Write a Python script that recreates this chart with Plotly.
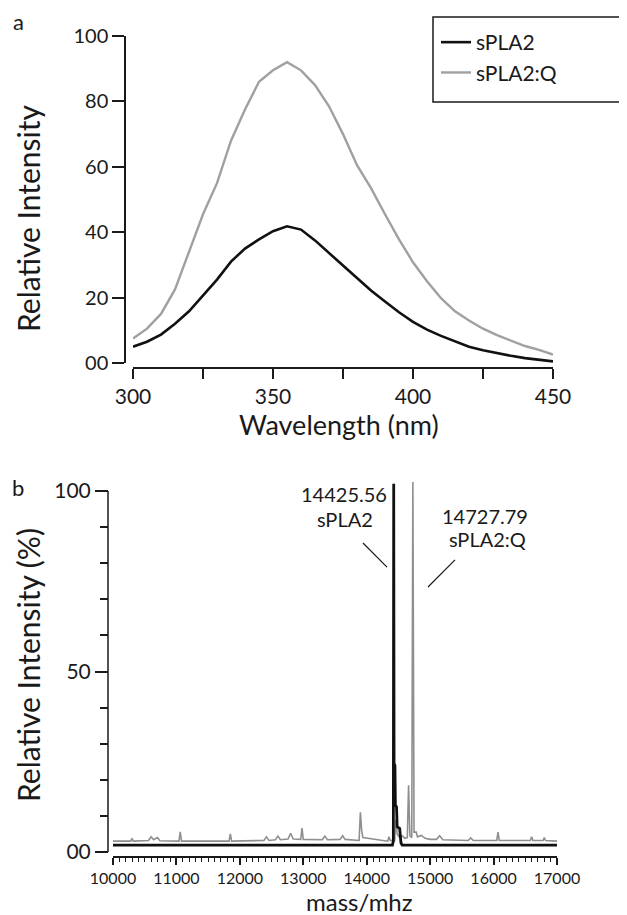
import plotly.graph_objects as go

W, H = 627, 915
OFF = 8  # the page body margin shifts the figure by this many pixels
FW, FH = W - OFF, H - OFF


def px(x):
    return (x - OFF) / FW


def py(y):
    return 1 - (y - OFF) / FH


# ---------------- Panel a: fluorescence emission ----------------
wavelength = [300, 305, 310, 315, 320, 325, 330, 335, 340, 345, 350, 355, 360, 365, 370, 375,
              380, 385, 390, 395, 400, 405, 410, 415, 420, 425, 430, 435, 440, 445, 450]
fluor_spla2 = [5.0, 6.5, 8.7, 12.0, 15.8, 20.8, 25.5, 31.0, 35.0, 37.8, 40.3, 41.8, 40.8, 37.5,
               33.8, 29.8, 26.0, 22.2, 18.8, 15.5, 12.6, 10.2, 8.3, 6.6, 5.0, 3.9, 3.0, 2.2,
               1.5, 0.9, 0.5]
fluor_spla2_q = [7.5, 10.5, 15.0, 22.5, 34.0, 45.5, 55.0, 68.0, 77.5, 86.0, 89.5, 92.0, 89.5,
                 85.0, 78.5, 70.0, 60.5, 53.5, 45.5, 37.8, 30.8, 25.0, 19.8, 15.8, 13.0, 10.5,
                 8.5, 6.8, 5.2, 4.0, 2.6]
a_xticks = [300, 325, 350, 375, 400, 425, 450]
a_xticktext = ["300", "", "350", "", "400", "", "450"]
a_yticks = [0, 20, 40, 60, 80, 100]
a_yticktext = ["00", "20", "40", "60", "80", "100"]

# ---------------- Panel b: mass spectrum ----------------
ms_mass_q = [10000, 10280, 10300, 10320, 10560, 10600, 10640, 10700, 10740, 11040, 11060, 11080,
             11830, 11850, 11870, 12380, 12420, 12460, 12560, 12600, 12640, 12760, 12800, 12840,
             12960, 12980, 13000, 13300, 13340, 13380, 13580, 13620, 13660, 13880, 13900, 13920,
             13940, 14330, 14350, 14370, 14440, 14460, 14480, 14520, 14560, 14600, 14640, 14660,
             14680, 14710, 14727.79, 14746, 14780, 14800, 14860, 14920, 15000, 15100, 15150,
             15200, 15600, 15640, 15680, 16050, 16070, 16090, 16580, 16600, 16620, 16780, 16800,
             16820, 17000]
ms_int_q = [3.0, 3.0, 3.8, 3.0, 3.2, 4.2, 3.4, 4.0, 3.1, 3.0, 5.6, 3.0,
            3.0, 5.0, 3.0, 3.2, 4.2, 3.2, 3.4, 4.4, 3.4, 3.6, 5.2, 3.6,
            3.5, 6.6, 3.5, 3.4, 4.4, 3.4, 3.5, 4.5, 3.5, 3.2, 11.0, 6.0,
            4.0, 3.0, 4.2, 3.2, 3.2, 9.0, 5.0, 4.0, 4.5, 3.8, 4.0, 18.5,
            4.5, 4.0, 102.5, 5.5, 5.5, 4.2, 4.6, 3.8, 3.5, 3.5, 4.5,
            3.4, 3.2, 3.9, 3.2, 3.2, 5.5, 3.2, 3.2, 4.2, 3.2, 3.2, 4.0,
            3.2, 3.0]
ms_mass = [10000, 14405, 14420, 14425.56, 14431, 14445, 14452, 14470, 14480, 14520, 14540,
           14560, 17000]
ms_int = [1.9, 1.9, 3.0, 102.0, 24.5, 24.0, 13.0, 12.5, 7.0, 6.5, 2.5, 1.9, 1.9]
b_xticks = [10000, 11000, 12000, 13000, 14000, 15000, 16000, 17000]
b_xticktext = ["10000", "11000", "12000", "13000", "14000", "15000", "16000", "17000"]
b_yticks = [0, 50, 100]
b_yticktext = ["00", "50", "100"]

FONT = "Lato"
INK = "#1a1a1a"
BLACK = "#111111"
GRAY_A = "#a0a0a0"
GRAY_B = "#8f8f8f"

fig = go.Figure()
fig.add_trace(go.Scatter(x=wavelength, y=fluor_spla2, mode="lines", name="sPLA2",
                         line=dict(color=BLACK, width=2.6), xaxis="x", yaxis="y"))
fig.add_trace(go.Scatter(x=wavelength, y=fluor_spla2_q, mode="lines", name="sPLA2:Q",
                         line=dict(color=GRAY_A, width=2.4), xaxis="x", yaxis="y"))
fig.add_trace(go.Scatter(x=ms_mass_q, y=ms_int_q, mode="lines", showlegend=False,
                         line=dict(color=GRAY_B, width=1.6), xaxis="x2", yaxis="y2"))
fig.add_trace(go.Scatter(x=ms_mass, y=ms_int, mode="lines", showlegend=False,
                         line=dict(color=BLACK, width=2.8), xaxis="x2", yaxis="y2"))

axis_common = dict(showgrid=False, zeroline=False, linecolor=INK, linewidth=1.5,
                   ticks="outside", tickcolor=INK, tickwidth=1.5, automargin=False)

b_ymax = 103

fig.update_layout(
    template="none",
    width=FW, height=FH, margin=dict(l=0, r=0, t=0, b=0, pad=0), autosize=False,
    paper_bgcolor="white", plot_bgcolor="white",
    font=dict(family=FONT, color=INK),
    xaxis=dict(domain=[px(133), px(553)], range=[300, 450], anchor="free", position=py(368),
               showline=True, ticklen=10, tickvals=a_xticks, ticktext=a_xticktext,
               tickfont=dict(size=21, color=INK), **axis_common),
    yaxis=dict(domain=[py(363), py(36)], range=[0, 100], anchor="free", position=px(125),
               showline=True, ticklen=12, tickvals=a_yticks, ticktext=a_yticktext,
               tickfont=dict(size=20, color=INK), **axis_common),
    xaxis2=dict(domain=[px(113), px(557)], range=[10000, 17000], anchor="free", position=py(857),
                showline=True, ticklen=7, tickvals=b_xticks, ticktext=b_xticktext,
                tickfont=dict(size=16, color=INK),
                minor=dict(dtick=100, tick0=10000, ticklen=4, ticks="outside", tickcolor=INK,
                           tickwidth=1.2),
                **axis_common),
    yaxis2=dict(domain=[py(852), py(852 - b_ymax * 3.61)], range=[0, b_ymax], anchor="free",
                position=px(108), showline=False, ticklen=13, tickvals=b_yticks,
                ticktext=b_yticktext, tickfont=dict(size=21, color=INK),
                minor=dict(dtick=10, tick0=0, ticklen=8, ticks="outside", tickcolor=INK,
                           tickwidth=1.5),
                **axis_common),
    legend=dict(x=px(436), y=py(22), xanchor="left", yanchor="top",
                bgcolor="rgba(0,0,0,0)", borderwidth=0,
                font=dict(family=FONT, size=21, color=INK), tracegroupgap=0),
    showlegend=True,
)

shapes = [
    # legend frame (runs off the right edge, as in the original)
    dict(type="rect", xref="paper", yref="paper", x0=px(433), x1=px(640), y0=py(102), y1=py(17),
         line=dict(color=INK, width=1.5), fillcolor="rgba(0,0,0,0)"),
    # left axis line of panel b, drawn only from 0 to 100
    dict(type="line", xref="paper", yref="y2", x0=px(108), x1=px(108), y0=0, y1=100,
         line=dict(color=INK, width=1.5)),
    # callout lines in panel b
    dict(type="line", xref="x2", yref="y2", x0=13941, y0=85.6, x1=14320, y1=78.9,
         line=dict(color=INK, width=1.2)),
    dict(type="line", xref="x2", yref="y2", x0=15392, y0=80.9, x1=14966, y1=73.4,
         line=dict(color=INK, width=1.2)),
]
fig.update_layout(shapes=shapes)


def label(text, x, y, size, angle=0, xanchor="center"):
    return dict(text=text, x=px(x), y=py(y), xref="paper", yref="paper", showarrow=False,
                xanchor=xanchor, yanchor="middle", textangle=angle,
                font=dict(size=size, color=INK))


annotations = [
    label("a", 18, 22, 22),
    label("b", 18, 487, 22),
    label("Relative Intensity", 28, 219, 30, angle=-90),
    label("Wavelength (nm)", 339, 424, 27),
    label("Relative Intensity (%)", 28, 665, 30, angle=-90),
    label("mass/mhz", 359, 901, 24),
    label("14425.56", 389, 494, 20, xanchor="right"),
    label("sPLA2", 345, 519, 20),
    label("14727.79", 485, 516, 20),
    label("sPLA2:Q", 487, 539, 20),
]
fig.update_layout(annotations=annotations)

fig.write_html("out.html")
